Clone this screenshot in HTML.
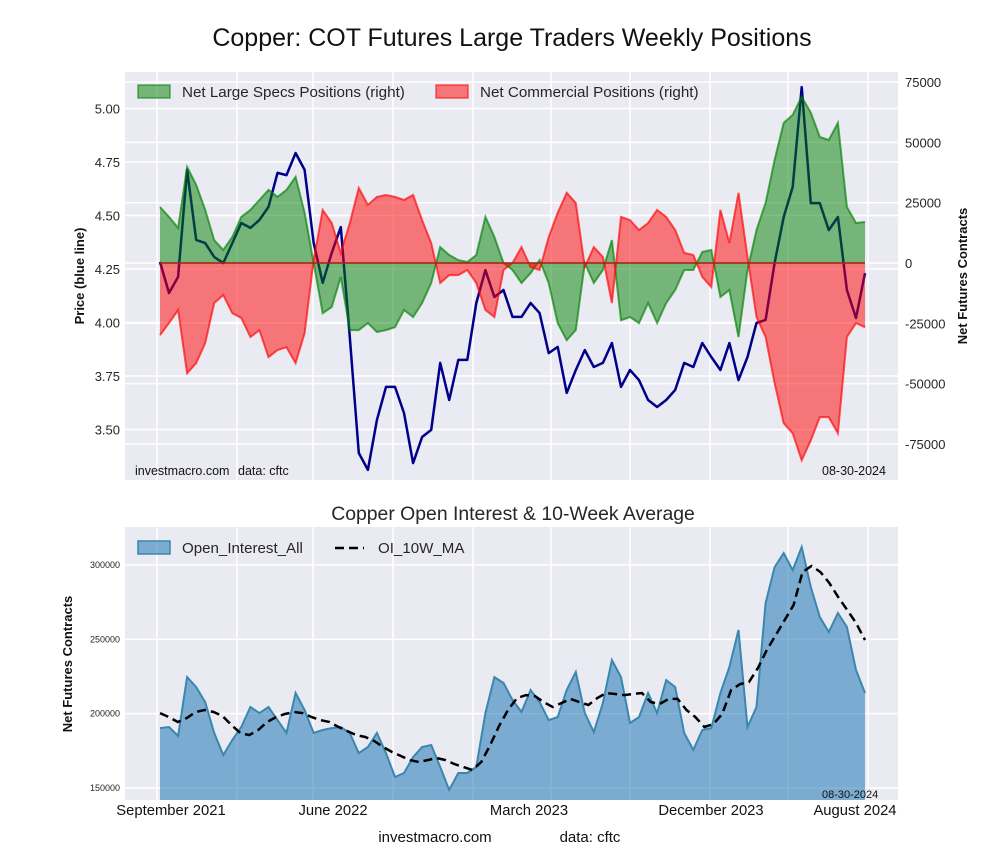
<!DOCTYPE html>
<html><head><meta charset="utf-8"><style>
body{margin:0;background:#fff;}
svg{display:block;font-family:"Liberation Sans",sans-serif;}
</style></head><body>
<svg id="chart" width="1000" height="860" viewBox="0 0 1000 860">
<text x="512" y="46" font-size="25" text-anchor="middle" fill="#111">Copper: COT Futures Large Traders Weekly Positions</text>
<rect x="125" y="72" width="773" height="408" fill="#eaeaf2"/>
<g id="topGrid"></g>
<g id="topMarks"></g>
<g>
<rect x="138" y="85" width="32" height="13" fill="rgba(0,128,0,0.5)" stroke="rgba(0,128,0,0.6)" stroke-width="1.5"/>
<text x="182" y="97" font-size="15.2" fill="#262626">Net Large Specs Positions (right)</text>
<rect x="436" y="85" width="32" height="13" fill="rgba(255,0,0,0.5)" stroke="rgba(255,0,0,0.6)" stroke-width="1.5"/>
<text x="480" y="97" font-size="15.2" fill="#262626">Net Commercial Positions (right)</text>
</g>
<text x="135" y="475" font-size="12.5" fill="#111">investmacro.com</text>
<text x="238" y="475" font-size="12.5" fill="#111">data: cftc</text>
<text x="822" y="475" font-size="12.5" fill="#111">08-30-2024</text>
<text transform="translate(84,276) rotate(-90)" font-size="13" font-weight="bold" text-anchor="middle" fill="#111">Price (blue line)</text>
<text transform="translate(967,276) rotate(-90)" font-size="13" font-weight="bold" text-anchor="middle" fill="#111">Net Futures Contracts</text>

<text x="513" y="520" font-size="19.4" text-anchor="middle" fill="#262626">Copper Open Interest &amp; 10-Week Average</text>
<rect x="125" y="527" width="773" height="273" fill="#eaeaf2"/>
<g id="botGrid"></g>
<g id="botMarks"></g>
<g>
<rect x="138" y="541" width="32" height="13" fill="rgba(31,119,180,0.55)" stroke="#3a87ae" stroke-width="1.5"/>
<text x="182" y="553" font-size="15.1" fill="#262626">Open_Interest_All</text>
<line x1="335" y1="548" x2="364" y2="548" stroke="#000" stroke-width="2.5" stroke-dasharray="9,5"/>
<text x="378" y="553" font-size="15.1" fill="#262626">OI_10W_MA</text>
</g>
<text x="822" y="798" font-size="11" fill="#111">08-30-2024</text>
<text transform="translate(72,664) rotate(-90)" font-size="13" font-weight="bold" text-anchor="middle" fill="#111">Net Futures Contracts</text>
<g id="xLabels"></g>
<text x="435" y="842" font-size="15" text-anchor="middle" fill="#111">investmacro.com</text>
<text x="590" y="842" font-size="15" text-anchor="middle" fill="#111">data: cftc</text>
</svg>
<script>
const price=[4.283,4.138,4.213,4.713,4.386,4.371,4.306,4.278,4.371,4.465,4.442,4.479,4.540,4.699,4.689,4.792,4.713,4.371,4.185,4.325,4.446,3.932,3.390,3.311,3.544,3.699,3.699,3.577,3.343,3.465,3.498,3.811,3.638,3.825,3.825,4.091,4.245,4.119,4.152,4.026,4.026,4.091,4.044,3.857,3.886,3.671,3.778,3.871,3.792,3.811,3.904,3.699,3.778,3.731,3.638,3.605,3.638,3.685,3.811,3.792,3.904,3.839,3.778,3.904,3.731,3.839,3.998,4.012,4.278,4.493,4.633,5.100,4.558,4.558,4.432,4.493,4.152,4.021,4.231];
const specs=[23200,19100,14500,39800,32400,22000,9500,5400,10800,19100,22000,26100,30300,27400,30300,35700,20800,0,-20800,-18300,-5800,-27800,-27800,-24900,-28600,-27800,-26600,-19500,-22400,-16600,-8300,6600,3300,1200,400,3300,19100,10800,0,-2900,-8300,-4200,1200,-8300,-24900,-32000,-27800,0,-8300,-2900,9500,-23700,-22400,-24900,-16600,-24900,-16600,-11200,-2900,-2900,4600,5400,-14100,-11200,-30700,-2900,13700,24900,42700,58100,61400,68900,62300,52300,51000,58100,23200,16600,17000];
const commercial=[-29900,-24900,-19500,-45700,-41500,-33200,-16600,-13300,-20800,-22800,-30700,-27800,-39000,-36100,-34900,-41500,-29100,1200,22000,16600,4200,16600,31100,24100,27400,28200,27400,26100,28200,17800,8300,-8300,-5000,-5000,-2900,-8300,-19500,-22400,-2900,0,6600,-1700,-2900,10800,20800,29100,24900,-1700,6600,2500,-16600,19100,17800,13700,16600,22000,19100,13700,4200,3300,-5800,-10000,22000,8300,29100,2500,-22400,-30700,-49800,-66400,-70600,-81800,-73500,-63900,-63900,-70600,-30700,-24900,-26600];
const openInterest=[190300,191000,185000,224600,217900,207800,187000,172200,182300,191000,204500,200400,204500,195700,187000,213900,202500,187000,189000,190300,191000,187000,173500,177600,187000,173500,157400,160100,170800,177600,178900,164100,148700,160100,160100,164100,200400,224600,220600,209200,201100,215900,207800,195700,197700,215900,228000,200400,187700,207200,236100,224600,193700,197700,213900,200400,222600,217900,187000,175600,189000,190300,213900,231400,256300,191000,204500,274400,298600,308000,296600,312100,285200,265000,254900,267700,258300,229400,213900];
const oiMA=[200400,197700,194400,197100,201100,202500,201100,198400,192400,187000,185600,189000,194400,197700,199800,201100,200400,197700,195700,194400,191000,188300,185600,184300,181600,177600,174200,171500,168800,167500,168800,170200,168800,166100,164100,162100,167500,178900,191700,202500,210500,212500,211900,207800,204500,207200,209900,207800,205800,210500,213900,213200,212500,213200,213900,207800,206500,209900,209900,202500,197700,191000,193000,199800,215900,219900,221300,230700,242800,252900,263000,273100,295300,299300,295300,287900,278400,269700,261000,249500];
const priceTicks=[3.50,3.75,4.00,4.25,4.50,4.75,5.00];
const netTicks=[-75000,-50000,-25000,0,25000,50000,75000];
const oiTicks=[150000,200000,250000,300000];
const xTickLabels=["September 2021","June 2022","March 2023","December 2023","August 2024"];

const NS="http://www.w3.org/2000/svg";
function mk(tag,attrs,parent){const e=document.createElementNS(NS,tag);for(const k in attrs)e.setAttribute(k,attrs[k]);parent.appendChild(e);return e;}
const X0=160,X1=865;
function xs(i,n){return X0+i*(X1-X0)/(n-1);}
function yPrice(p){return 269-(p-4.25)*214;}
function yNet(v){return 263-v*60.3/25000;}
function yOI(v){return 788-(v-150000)*223/150000;}

const tg=document.getElementById('topGrid'),tm=document.getElementById('topMarks');
const bg=document.getElementById('botGrid'),bm=document.getElementById('botMarks');
const vLines=[157,237,313,393,473,551,630,710,788,868];
vLines.forEach(x=>{
 const a=mk('line',{x1:x,x2:x,y1:72,y2:480,stroke:'#fff','stroke-width':1.5},tg);
 
 
 const b=mk('line',{x1:x,x2:x,y1:527,y2:800,stroke:'#fff','stroke-width':1.5},bg);
 
 
});
priceTicks.forEach(t=>{
 const y=yPrice(t);
 const l=mk('line',{x1:125,x2:898,y1:y,y2:y,stroke:'#fff','stroke-width':1.5},tg);
 
 
 const tx=mk('text',{x:120,y:y+5,'font-size':13,'text-anchor':'end',fill:'#262626'},tg);
 tx.textContent=t.toFixed(2);
 
 
});
netTicks.forEach(t=>{
 const y=yNet(t);
 const l=mk('line',{x1:125,x2:898,y1:y,y2:y,stroke:'#fff','stroke-width':1.5},tg);
 
 
 const tx=mk('text',{x:905,y:y+5,'font-size':13,fill:'#262626'},tg);
 tx.textContent=String(t);
 
 
});
oiTicks.forEach(t=>{
 const y=yOI(t);
 const l=mk('line',{x1:125,x2:898,y1:y,y2:y,stroke:'#fff','stroke-width':1.5},bg);
 
 
 const tx=mk('text',{x:120,y:y+3,'font-size':9,'text-anchor':'end',fill:'#262626'},bg);
 tx.textContent=String(t);
 
 
});
const xlPos=[171,333,529,711,855];
const xl=document.getElementById('xLabels');
xTickLabels.forEach((s,i)=>{
 const tx=mk('text',{x:xlPos[i],y:815,'font-size':14.8,'text-anchor':'middle',fill:'#111'},xl);
 tx.textContent=s;
 
 
});

function linePts(arr,yf){return arr.map((v,i)=>xs(i,arr.length).toFixed(1)+','+yf(v).toFixed(1)).join(' ');}
function areaPts(arr,yf,base){const n=arr.length;return xs(0,n)+','+base+' '+linePts(arr,yf)+' '+xs(n-1,n)+','+base;}

const pl=mk('polyline',{points:linePts(price,yPrice),fill:'none',stroke:'#00008b','stroke-width':2.5,'stroke-linejoin':'round'},tm);


const z=yNet(0);
const sa=mk('polygon',{points:areaPts(specs,yNet,z),fill:'rgba(0,128,0,0.5)',stroke:'none'},tm);


const sl=mk('polyline',{points:linePts(specs,yNet),fill:'none',stroke:'rgba(0,128,0,0.65)','stroke-width':2},tm);


const ca=mk('polygon',{points:areaPts(commercial,yNet,z),fill:'rgba(255,0,0,0.5)',stroke:'none'},tm);


const cl=mk('polyline',{points:linePts(commercial,yNet),fill:'none',stroke:'rgba(255,0,0,0.65)','stroke-width':2},tm);


const zl=mk('line',{x1:X0,x2:X1,y1:z,y2:z,stroke:'rgba(160,40,20,0.8)','stroke-width':2},tm);



const oa=mk('polygon',{points:areaPts(openInterest,yOI,800),fill:'rgba(31,119,180,0.55)',stroke:'none'},bm);


const ol=mk('polyline',{points:linePts(openInterest,yOI),fill:'none',stroke:'#3a87ae','stroke-width':2},bm);


const ml=mk('polyline',{points:linePts(oiMA,yOI),fill:'none',stroke:'#000','stroke-width':2.5,'stroke-dasharray':'9,5'},bm);


</script>
</body></html>
